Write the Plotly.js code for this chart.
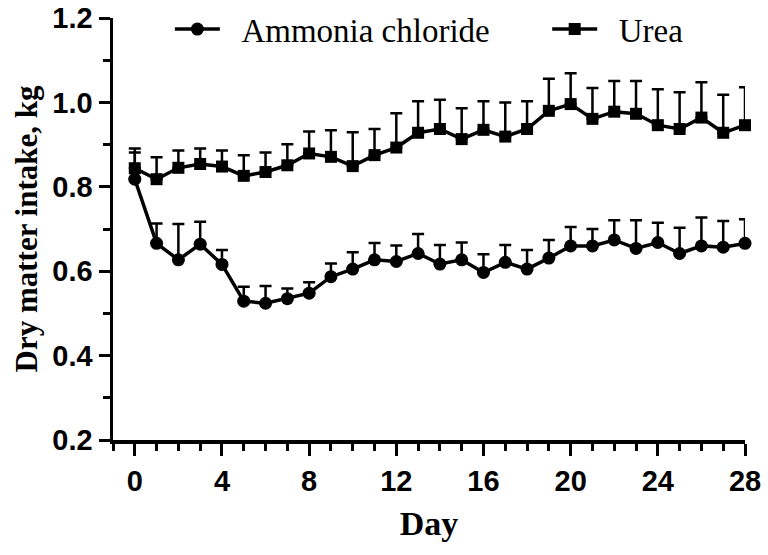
<!DOCTYPE html>
<html>
<head>
<meta charset="utf-8">
<script src="https://cdn.plot.ly/plotly-3.0.1.min.js"></script>
<style>
  html, body { margin: 0; padding: 0; background: #fff; }
  #chart { width: 768px; height: 555px; }
</style>
</head>
<body>
<div id="chart"></div>
<script>
// Days of the trial
var days = [0, 1, 2, 3, 4, 5, 6, 7, 8, 9, 10, 11, 12, 13, 14, 15, 16, 17, 18, 19, 20, 21, 22, 23, 24, 25, 26, 27, 28];

// Ammonia chloride: mean and upper error (SD)
var ammonia = [0.818, 0.666, 0.627, 0.664, 0.616, 0.529, 0.524, 0.535, 0.548, 0.587, 0.605, 0.627, 0.623, 0.642, 0.617,
               0.627, 0.597, 0.621, 0.605, 0.631, 0.660, 0.660, 0.674, 0.654, 0.668, 0.642, 0.660, 0.657, 0.666];
var ammoniaErr = [0.063, 0.047, 0.085, 0.053, 0.034, 0.034, 0.041, 0.024, 0.026, 0.031, 0.040, 0.040, 0.038, 0.046, 0.045,
                  0.041, 0.043, 0.041, 0.045, 0.043, 0.045, 0.040, 0.047, 0.067, 0.047, 0.061, 0.067, 0.062, 0.057];

// Urea: mean and upper error (SD)
var urea = [0.844, 0.818, 0.845, 0.854, 0.848, 0.826, 0.835, 0.851, 0.879, 0.871, 0.849, 0.875, 0.893, 0.928, 0.937,
            0.913, 0.935, 0.919, 0.937, 0.980, 0.996, 0.961, 0.978, 0.973, 0.946, 0.937, 0.964, 0.928, 0.946];
var ureaErr = [0.047, 0.052, 0.041, 0.037, 0.038, 0.049, 0.046, 0.050, 0.052, 0.063, 0.080, 0.062, 0.081, 0.075, 0.069,
               0.073, 0.068, 0.081, 0.066, 0.076, 0.073, 0.073, 0.073, 0.078, 0.085, 0.087, 0.084, 0.090, 0.090];

var xTicks = [0, 4, 8, 12, 16, 20, 24, 28];
var yTicks = [0.2, 0.4, 0.6, 0.8, 1.0, 1.2];
var yTickText = ['0.2', '0.4', '0.6', '0.8', '1.0', '1.2'];

function zeros(n) {
    var a = [];
    for (var i = 0; i < n; i++) a.push(0);
    return a;
}

var sans = '"Liberation Sans", Arial, sans-serif';
var serif = '"Liberation Serif", "Times New Roman", serif';
var tickFont = { family: sans, size: 29, color: '#000', weight: 'bold' };

// legend text sits a little further from the symbol in the original
var gap = '\u00a0\u00a0';

var traceAmmonia = {
    x: days,
    y: ammonia,
    name: gap + 'Ammonia chloride',
    legend: 'legend',
    type: 'scatter',
    mode: 'lines+markers',
    cliponaxis: false,
    line: { color: '#000', width: 3.5 },
    marker: { symbol: 'circle', size: 13, color: '#000' },
    error_y: {
        type: 'data',
        symmetric: false,
        array: ammoniaErr,
        arrayminus: zeros(days.length),
        color: '#000',
        thickness: 2.5,
        width: 6
    }
};

var traceUrea = {
    x: days,
    y: urea,
    name: gap + 'Urea',
    legend: 'legend2',
    type: 'scatter',
    mode: 'lines+markers',
    cliponaxis: false,
    line: { color: '#000', width: 3.5 },
    marker: { symbol: 'square', size: 12, color: '#000' },
    error_y: {
        type: 'data',
        symmetric: false,
        array: ureaErr,
        arrayminus: zeros(days.length),
        color: '#000',
        thickness: 2.5,
        width: 6
    }
};

var legendBase = {
    orientation: 'h',
    y: 1.04,
    xanchor: 'left',
    yanchor: 'top',
    itemwidth: 45,
    font: { family: serif, size: 33, color: '#000' },
    bgcolor: 'rgba(0,0,0,0)'
};

var layout = {
    width: 768,
    height: 555,
    margin: { l: 113, r: 23, t: 18, b: 115, autoexpand: false },
    paper_bgcolor: '#fff',
    plot_bgcolor: '#fff',
    showlegend: true,
    legend: Object.assign({}, legendBase, { x: 0.090 }),
    legend2: Object.assign({}, legendBase, { x: 0.687 }),
    xaxis: {
        range: [-1, 28],
        tickvals: xTicks,
        ticktext: xTicks.map(String),
        ticks: 'outside',
        ticklen: 12,
        tickwidth: 3,
        tickcolor: '#000',
        minor: { dtick: 1, tick0: 0, ticks: 'outside', ticklen: 7, tickwidth: 3, tickcolor: '#000' },
        showline: true,
        linecolor: '#000',
        linewidth: 3.5,
        showgrid: false,
        zeroline: false,
        tickfont: tickFont,
        ticklabelstandoff: 1,
        title: { text: 'Day', font: { family: serif, size: 34, color: '#000', weight: 'bold' }, standoff: 16 }
    },
    yaxis: {
        range: [0.2, 1.2],
        tickvals: yTicks,
        ticktext: yTickText,
        ticks: 'outside',
        ticklen: 11,
        tickwidth: 3,
        tickcolor: '#000',
        minor: { dtick: 0.1, tick0: 0.2, ticks: 'outside', ticklen: 7, tickwidth: 3, tickcolor: '#000' },
        showline: true,
        linecolor: '#000',
        linewidth: 3.5,
        showgrid: false,
        zeroline: false,
        tickfont: tickFont,
        title: { text: 'Dry matter intake, kg', font: { family: serif, size: 31, color: '#000', weight: 'bold' }, standoff: 6 }
    }
};

Plotly.newPlot('chart', [traceAmmonia, traceUrea], layout, { displayModeBar: false, staticPlot: true });
</script>
</body>
</html>
